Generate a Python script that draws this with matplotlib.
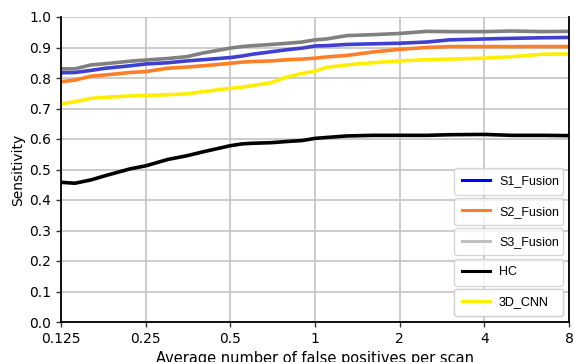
import matplotlib
matplotlib.use("Agg")
import matplotlib.pyplot as plt
from matplotlib.lines import Line2D

fp = [0.125, 0.14, 0.16, 0.18, 0.22, 0.25, 0.3, 0.35, 0.4, 0.5, 0.55, 0.6, 0.7,
      0.8, 0.9, 1.0, 1.1, 1.3, 1.6, 2.0, 2.5, 3.0, 4.0, 5.0, 6.5, 8.0]

s1_fusion = [0.817, 0.818, 0.825, 0.832, 0.840, 0.846, 0.850, 0.856, 0.860, 0.867,
             0.872, 0.878, 0.886, 0.893, 0.898, 0.905, 0.906, 0.910, 0.912, 0.914,
             0.918, 0.925, 0.928, 0.930, 0.932, 0.933]
s2_fusion = [0.788, 0.793, 0.806, 0.810, 0.818, 0.821, 0.832, 0.836, 0.840, 0.848,
             0.852, 0.854, 0.856, 0.860, 0.862, 0.865, 0.869, 0.874, 0.885, 0.894,
             0.900, 0.903, 0.903, 0.903, 0.903, 0.903]
s3_fusion = [0.830, 0.830, 0.843, 0.847, 0.855, 0.859, 0.864, 0.870, 0.882, 0.898,
             0.903, 0.906, 0.910, 0.914, 0.918, 0.925, 0.928, 0.939, 0.942, 0.946,
             0.953, 0.952, 0.952, 0.954, 0.952, 0.953]
hc = [0.458, 0.455, 0.466, 0.480, 0.502, 0.512, 0.533, 0.545, 0.558, 0.578,
      0.584, 0.586, 0.588, 0.592, 0.595, 0.602, 0.605, 0.610, 0.612, 0.612,
      0.612, 0.614, 0.615, 0.612, 0.612, 0.611]
cnn_3d = [0.715, 0.722, 0.733, 0.737, 0.741, 0.743, 0.745, 0.748, 0.755, 0.766,
          0.770, 0.775, 0.785, 0.804, 0.815, 0.822, 0.835, 0.843, 0.850, 0.856,
          0.860, 0.862, 0.865, 0.870, 0.878, 0.879]

series_names = ["S1_Fusion", "S2_Fusion", "S3_Fusion", "HC", "3D_CNN"]
series_values = [s1_fusion, s2_fusion, s3_fusion, hc, cnn_3d]
line_colors = ["#4040d0", "#ff7f27", "#808080", "#000000", "#ffee00"]
legend_colors = ["#0000ff", "#ff7f27", "#c0c0c0", "#000000", "#ffee00"]

x_ticks = [0.125, 0.25, 0.5, 1, 2, 4, 8]
x_tick_labels = ["0.125", "0.25", "0.5", "1", "2", "4", "8"]
y_ticks = [0.0, 0.1, 0.2, 0.3, 0.4, 0.5, 0.6, 0.7, 0.8, 0.9, 1.0]

fig = plt.figure(figsize=(5.74, 3.62), dpi=100)
fig.subplots_adjust(left=61/574, right=569/574, top=1-17/362, bottom=1-322/362)
ax = fig.add_subplot(111)

for name, vals, c in zip(series_names, series_values, line_colors):
    ax.plot(fp, vals, color=c, lw=2.6, solid_capstyle="butt")

ax.set_xscale("log", base=2)
ax.set_xlim(0.125, 8)
ax.set_ylim(0, 1.0)
ax.set_xticks(x_ticks)
ax.set_xticklabels(x_tick_labels)
ax.minorticks_off()
ax.set_yticks(y_ticks)
ax.set_yticklabels([f"{v:.1f}" for v in y_ticks])
ax.tick_params(labelsize=10, width=1, length=3.5, color="#333333")
ax.grid(True, color="#c4c4c4", lw=1.2)
ax.set_axisbelow(True)
ax.spines["top"].set_visible(False)
for s in ["left", "bottom", "right"]:
    ax.spines[s].set_color("black")
    ax.spines[s].set_linewidth(1.3)

ax.set_ylabel("Sensitivity", fontsize=10, labelpad=3)
ax.set_xlabel("Average number of false positives per scan", fontsize=10.5, labelpad=3.5)

x0 = (454 - 61) / 508
w = (563 - 454) / 508
for i, (name, c) in enumerate(zip(series_names, legend_colors)):
    top = (322 - 168 - i * 30.2) / 305
    h = 24 / 305
    leg = ax.legend([Line2D([0], [0], color=c, lw=2.2)], [name],
                    loc="upper left", bbox_to_anchor=(x0, top - h, w, h),
                    mode="expand", borderaxespad=0,
                    prop={"family": "Liberation Sans", "size": 9},
                    handlelength=2.3, handletextpad=0.7, borderpad=0.6,
                    fancybox=True, framealpha=0.8, edgecolor="#cccccc")
    ax.add_artist(leg)

fig.savefig("out.png", dpi=100)
